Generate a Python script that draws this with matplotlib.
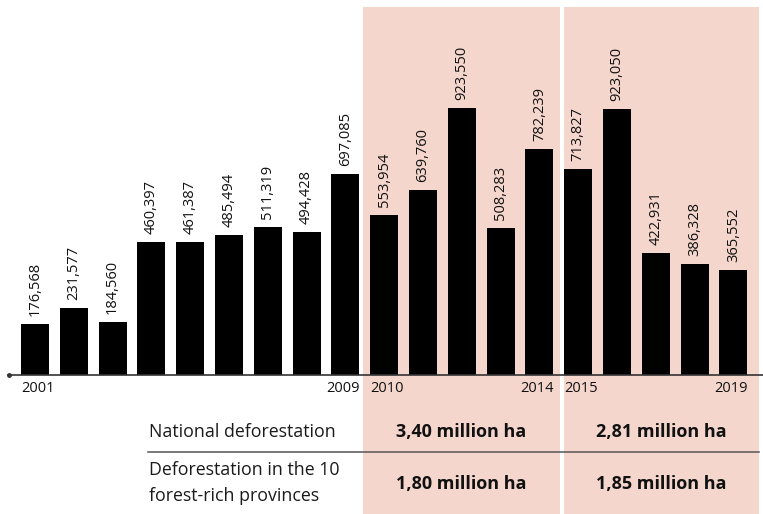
import matplotlib.pyplot as plt
from matplotlib.patches import Rectangle

years = list(range(2001, 2020))
loss_ha = [176568, 231577, 184560, 460397, 461387, 485494, 511319, 494428,
           697085, 553954, 639760, 923550, 508283, 782239, 713827, 923050,
           422931, 386328, 365552]
shown_years = {2001: "left", 2009: "right", 2010: "left", 2014: "right",
               2015: "left", 2019: "right"}
row_labels = ["National deforestation", "Deforestation in the 10\nforest-rich provinces"]
period_totals = [["3,40 million ha", "2,81 million ha"],
                 ["1,80 million ha", "1,85 million ha"]]

plt.rcParams['font.family'] = ['Open Sans', 'DejaVu Sans']
SHADE = "#f5d6cc"
W, H = 763, 514

fig = plt.figure(figsize=(W / 100, H / 100), dpi=100)
ax = fig.add_axes([0, 0, 1, 1])
ax.axis("off")

# pixel layout -> data: bar centres start at 35px, 38.8px apart; baseline at 375px
pitch = 38.8
x0 = -35 / pitch
ax.set_xlim(x0, x0 + W / pitch)
upp = 923550 / 266.5
ax.set_ylim(-(H - 375) * upp, 375 * upp)

def px(x):
    return x0 + x / pitch

def py(y):
    return (375 - y) * upp

# shaded periods
for a, b in [(363, 560), (564, 759)]:
    ax.add_patch(Rectangle((px(a), py(H + 5)), px(b) - px(a), py(7) - py(H + 5),
                           color=SHADE, lw=0, zorder=0))

idx = list(range(len(years)))
bw = 28 / pitch
ax.bar(idx, loss_ha, width=bw, color="black", zorder=2)
ax.plot([px(8), px(W)], [0, 0], color="#333333", lw=1.2, zorder=3)
ax.plot([px(9)], [0], marker="o", ms=2.5, color="#333333", zorder=3)

for i, v in zip(idx, loss_ha):
    ax.text(i, v + 8 * upp, f"{v:,}", rotation=90, ha="center", va="bottom",
            fontsize=10.5, color="#111111", zorder=3)

for i, y in zip(idx, years):
    if y in shown_years:
        al = shown_years[y]
        xx = i - bw / 2 if al == "left" else i + bw / 2
        ax.text(xx, py(381), str(y), ha=al, va="top", fontsize=10.5, color="#111111")

# summary table under the bars
ax.text(px(149), py(432), row_labels[0], ha="left", va="center", fontsize=12.8,
        color="#1a1a1a")
ax.text(px(149), py(483), row_labels[1], ha="left", va="center", fontsize=12.8,
        color="#1a1a1a", linespacing=1.55)
ax.plot([px(148), px(759)], [py(452), py(452)], color="#555555", lw=1.1, zorder=3)
col_centres = [px((363 + 560) / 2), px((564 + 759) / 2)]
for r, yy in enumerate([432, 484]):
    for c, xc in enumerate(col_centres):
        ax.text(xc, py(yy), period_totals[r][c], ha="center", va="center",
                fontsize=13, fontweight="bold", color="#111111")

fig.savefig("out.png", dpi=100)
